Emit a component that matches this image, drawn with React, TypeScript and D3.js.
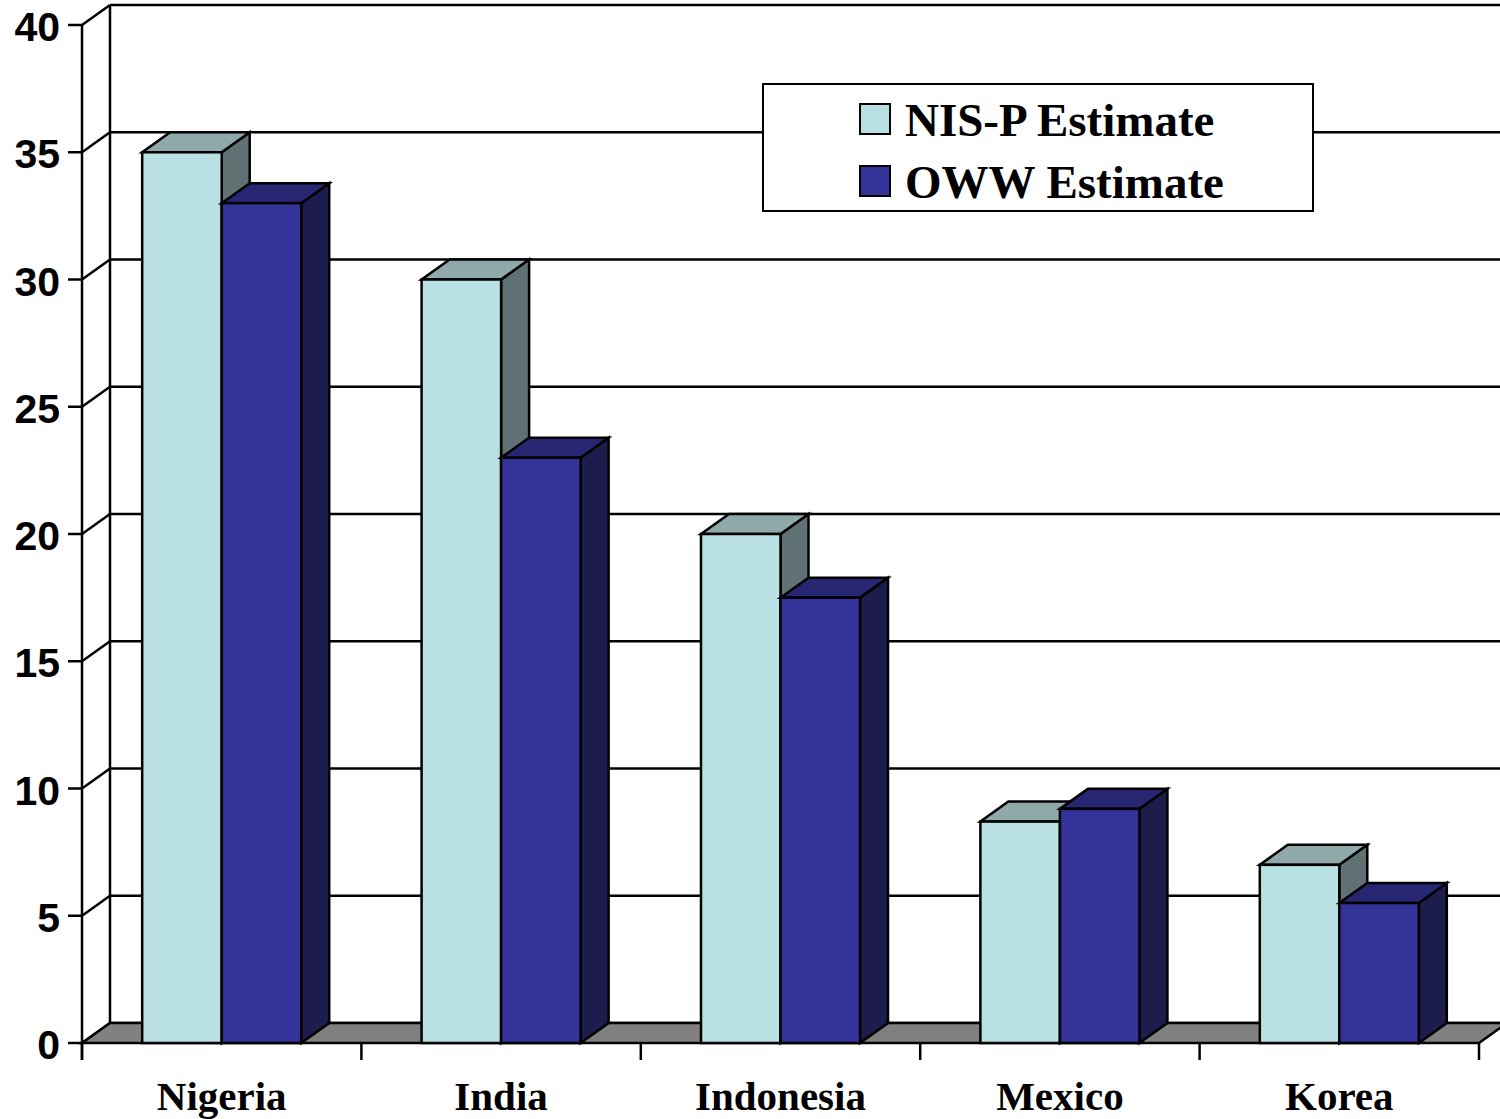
import React from "react";
import * as d3 from "d3";

const categories = ["Nigeria", "India", "Indonesia", "Mexico", "Korea"];
const seriesNames = ["NIS-P Estimate", "OWW Estimate"];
const nisValues = [35, 30, 20, 8.7, 7];
const owwValues = [33, 23, 17.5, 9.2, 5.5];
const yTicks = [0, 5, 10, 15, 20, 25, 30, 35, 40];

const W = 1500;
const H = 1119;
const DX = 28;
const DY = -20;
const left = 82;
const right = 1479;
const bottom = 1043;
const top = 25;

const colors = [
  { front: "#B9E0E3", top: "#8FA9AB", side: "#5F7172" },
  { front: "#333399", top: "#262673", side: "#1C1C4D" },
];

export default function App() {
  const y = d3.scaleLinear().domain([0, 40]).range([bottom, top]);
  const x = d3.scaleBand<string>().domain(categories).range([left, right]).padding(0);
  const inner = d3
    .scaleBand<string>()
    .domain(seriesNames)
    .range([0, x.bandwidth()])
    .paddingInner(0)
    .paddingOuter(0.757);
  const bw = inner.bandwidth();
  const data = [nisValues, owwValues];
  const sw = 2.5;

  const bars: JSX.Element[] = [];
  categories.forEach((c, ci) => {
    seriesNames.forEach((s, si) => {
      const v = data[si][ci];
      const x0 = (x(c) as number) + (inner(s) as number);
      const x1 = x0 + bw;
      const yt = y(v);
      const yb = y(0);
      const col = colors[si];
      const key = `${ci}-${si}`;
      bars.push(
        <g key={key} stroke="#000" strokeWidth={sw} strokeLinejoin="miter">
          <polygon
            points={`${x1},${yb} ${x1 + DX},${yb + DY} ${x1 + DX},${yt + DY} ${x1},${yt}`}
            fill={col.side}
          />
          <polygon
            points={`${x0},${yt} ${x1},${yt} ${x1 + DX},${yt + DY} ${x0 + DX},${yt + DY}`}
            fill={col.top}
          />
          <rect x={x0} y={yt} width={bw} height={yb - yt} fill={col.front} />
        </g>
      );
    });
  });

  const catTicks = [...categories.map((c) => x(c) as number), right];

  return (
    <svg
      width={W}
      height={H}
      viewBox={`0 0 ${W} ${H}`}
      style={{ position: "absolute", left: 0, top: 0, background: "#fff" }}
    >
      <g stroke="#000" strokeWidth={2.5} fill="none">
        {yTicks.map((t) => (
          <line key={`g${t}`} x1={left + DX} x2={W + 10} y1={y(t) + DY} y2={y(t) + DY} />
        ))}
        <line x1={left + DX} x2={left + DX} y1={y(40) + DY} y2={y(0) + DY} />
        <line x1={left} x2={left} y1={y(40)} y2={y(0) + 17} />
        {yTicks.map((t) => (
          <line key={`d${t}`} x1={left} x2={left + DX} y1={y(t)} y2={y(t) + DY} />
        ))}
        {yTicks.map((t) => (
          <line key={`t${t}`} x1={left - 14} x2={left} y1={y(t)} y2={y(t)} />
        ))}
      </g>
      <polygon
        points={`${left},${bottom} ${right},${bottom} ${right + DX},${bottom + DY} ${left + DX},${bottom + DY}`}
        fill="#808080"
        stroke="#000"
        strokeWidth={2.5}
      />
      <g stroke="#000" strokeWidth={2.5}>
        {catTicks.map((t, i) => (
          <line key={`ct${i}`} x1={t} x2={t} y1={bottom} y2={bottom + 17} />
        ))}
      </g>
      {bars}
      <g fontFamily="'Liberation Sans', Arial, sans-serif" fontWeight="bold" fontSize={41} textAnchor="end">
        {yTicks.map((t) => (
          <text key={`yl${t}`} x={60} y={y(t) + 16}>
            {t}
          </text>
        ))}
      </g>
      <g fontFamily="'Liberation Serif', 'Times New Roman', serif" fontWeight="bold" fontSize={41} textAnchor="middle">
        {categories.map((c) => (
          <text key={c} x={(x(c) as number) + x.bandwidth() / 2} y={1110}>
            {c}
          </text>
        ))}
      </g>
      <g>
        <rect x={763} y={84} width={550} height={127} fill="#fff" stroke="#000" strokeWidth={2} />
        {seriesNames.map((s, i) => (
          <g key={s}>
            <rect x={860} y={104 + i * 62} width={30} height={30} fill={colors[i].front} stroke="#000" strokeWidth={2} />
            <text
              x={905}
              y={136 + i * 62}
              fontFamily="'Liberation Serif', 'Times New Roman', serif"
              fontWeight="bold"
              fontSize={47}
            >
              {s}
            </text>
          </g>
        ))}
      </g>
    </svg>
  );
}
